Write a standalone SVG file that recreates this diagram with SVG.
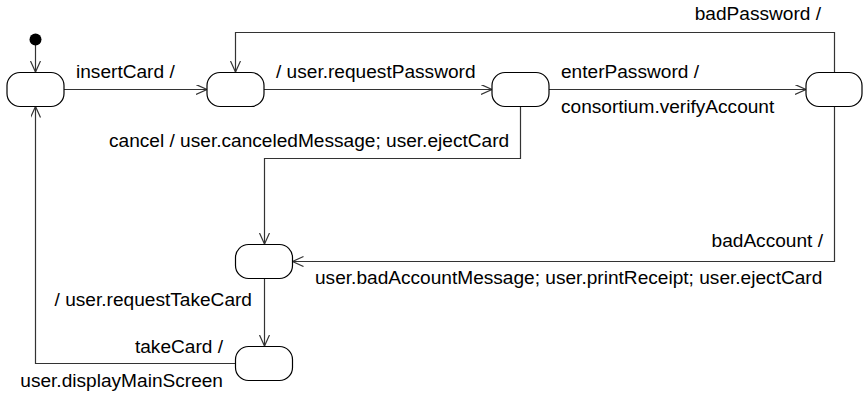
<svg xmlns="http://www.w3.org/2000/svg" width="867" height="393" viewBox="0 0 867 393">
  <style>
    .state { fill: #ffffff; stroke: #000000; stroke-width: 1.2; }
    .edge { fill: none; stroke: #333333; stroke-width: 1.2; marker-end: url(#open); }
    .lbl { font-family: "Liberation Sans", Arial, Helvetica, sans-serif; font-size: 19.1px; fill: #000000; }
    .end { text-anchor: end; }
  </style>
  <defs>
    <marker id="open" markerUnits="userSpaceOnUse" markerWidth="14" markerHeight="12" refX="11" refY="5" orient="auto">
      <path d="M0,0 L11,5 L0,10" fill="none" stroke="#333333" stroke-width="1.2"/>
    </marker>
  </defs>

  <!-- transitions -->
  <g id="connectors">
    <line class="edge" x1="35.5" y1="45" x2="35.5" y2="72"/>
    <line class="edge" x1="64" y1="89.5" x2="207" y2="89.5"/>
    <line class="edge" x1="264" y1="89.5" x2="492" y2="89.5"/>
    <line class="edge" x1="549" y1="89.5" x2="806" y2="89.5"/>
    <polyline class="edge" points="834.5,72 834.5,32.5 235.5,32.5 235.5,72"/>
    <polyline class="edge" points="520.5,106 520.5,158.5 264.5,158.5 264.5,244"/>
    <polyline class="edge" points="834.5,106 834.5,261.5 292.5,261.5"/>
    <line class="edge" x1="264.5" y1="278" x2="264.5" y2="346"/>
    <polyline class="edge" points="235.5,363.5 35.5,363.5 35.5,106.5"/>
  </g>

  <!-- start pseudo-state -->
  <g id="initial">
    <circle cx="35.5" cy="39.5" r="6" fill="#000000"/>
  </g>

  <!-- states -->
  <g id="s1"><rect class="state" x="7" y="72.5" width="57" height="34" rx="13" ry="13"/></g>
  <g id="s2"><rect class="state" x="207" y="72.5" width="57" height="34" rx="13" ry="13"/></g>
  <g id="s3"><rect class="state" x="492" y="72.5" width="57" height="34" rx="13" ry="13"/></g>
  <g id="s4"><rect class="state" x="806" y="72.5" width="56" height="34" rx="13" ry="13"/></g>
  <g id="s5"><rect class="state" x="235.5" y="244.5" width="57" height="34" rx="13" ry="13"/></g>
  <g id="s6"><rect class="state" x="235.5" y="346.5" width="57" height="34" rx="13" ry="13"/></g>

  <!-- transition labels -->
  <g id="labels">
    <text class="lbl" x="76" y="78">insertCard /</text>
    <text class="lbl" x="276" y="78">/ user.requestPassword</text>
    <text class="lbl" x="561" y="78">enterPassword /</text>
    <text class="lbl" x="561" y="113">consortium.verifyAccount</text>
    <text class="lbl end" x="821" y="20">badPassword /</text>
    <text class="lbl" x="109" y="147">cancel / user.canceledMessage; user.ejectCard</text>
    <text class="lbl end" x="823" y="247">badAccount /</text>
    <text class="lbl" x="315" y="284">user.badAccountMessage; user.printReceipt; user.ejectCard</text>
    <text class="lbl end" x="252" y="306">/ user.requestTakeCard</text>
    <text class="lbl end" x="223" y="353">takeCard /</text>
    <text class="lbl end" x="223" y="387">user.displayMainScreen</text>
  </g>
</svg>
